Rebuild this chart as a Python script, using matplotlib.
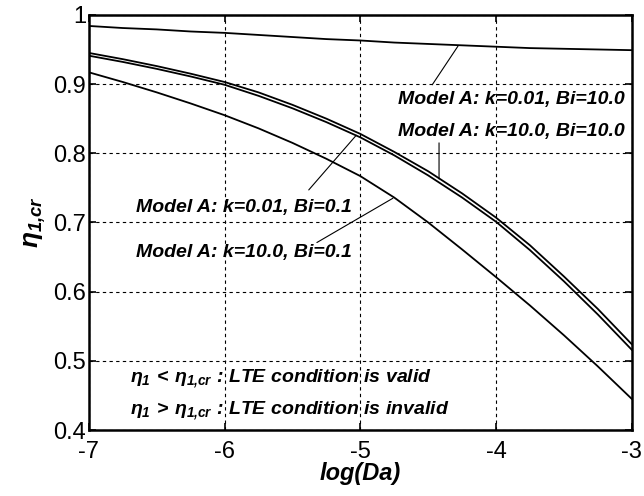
import numpy as np
import matplotlib
matplotlib.use("Agg")
import matplotlib.pyplot as plt

plt.rcParams['font.family'] = ['Liberation Sans', 'DejaVu Sans']
plt.rcParams['mathtext.fontset'] = 'custom'
plt.rcParams['mathtext.it'] = 'Liberation Sans:italic:bold'
plt.rcParams['mathtext.rm'] = 'Liberation Sans:italic:bold'
plt.rcParams['mathtext.bf'] = 'Liberation Sans:italic:bold'
plt.rcParams['axes.unicode_minus'] = False

# data
log_da = [-7, -6.75, -6.5, -6.25, -6, -5.75, -5.5, -5.25, -5,
          -4.75, -4.5, -4.25, -4, -3.75, -3.5, -3.25, -3]
k001_bi10 = [0.984, 0.981, 0.979, 0.976, 0.974, 0.971, 0.968, 0.965, 0.963,
             0.960, 0.958, 0.956, 0.954, 0.952, 0.951, 0.950, 0.949]
k10_bi10 = [0.945, 0.936, 0.926, 0.915, 0.903, 0.888, 0.870, 0.850, 0.828,
            0.802, 0.774, 0.742, 0.707, 0.667, 0.622, 0.575, 0.524]
k001_bi01 = [0.941, 0.932, 0.922, 0.911, 0.899, 0.883, 0.865, 0.845, 0.823,
             0.797, 0.768, 0.736, 0.701, 0.660, 0.615, 0.567, 0.516]
k10_bi01 = [0.917, 0.903, 0.888, 0.872, 0.855, 0.836, 0.815, 0.792, 0.767,
            0.736, 0.700, 0.661, 0.621, 0.580, 0.537, 0.492, 0.445]

fig = plt.figure(figsize=(6.44, 4.96), dpi=100)
ax = fig.add_axes([0.138, 0.133, 0.843, 0.837])

for s in [k001_bi10, k10_bi10, k001_bi01, k10_bi01]:
    ax.plot(log_da, s, color='black', lw=1.3)

ax.set_xlim(-7, -3)
ax.set_ylim(0.4, 1.0)
ax.set_xticks([-7, -6, -5, -4, -3])
ax.set_yticks([0.4, 0.5, 0.6, 0.7, 0.8, 0.9, 1.0])
ax.set_yticklabels(['0.4', '0.5', '0.6', '0.7', '0.8', '0.9', '1'])
ax.grid(True, color='black', linestyle=(0, (3, 3)), lw=0.8)
ax.tick_params(direction='in', top=True, right=True, labelsize=17, length=5, width=1.2, pad=2)
ax.tick_params(axis='x', pad=8)
for sp in ax.spines.values():
    sp.set_linewidth(1.8)

ax.set_xlabel('log(Da)', fontsize=17, fontweight='bold', fontstyle='italic', labelpad=-1)
ax.set_ylabel(r'$\eta_{1{,}cr}$', fontsize=19, labelpad=4)

tkw = dict(fontsize=14, fontweight='bold', fontstyle='italic', color='black')
lkw = dict(arrowprops=dict(arrowstyle='-', color='black', lw=0.8, shrinkA=0, shrinkB=0))

ax.text(-3.05, 0.877, 'Model A: k=0.01, Bi=10.0', ha='right', va='center', **tkw)
ax.annotate('', xy=(-4.28, 0.955), xytext=(-4.47, 0.899), **lkw)
ax.text(-3.05, 0.831, 'Model A: k=10.0, Bi=10.0', ha='right', va='center', **tkw)
ax.annotate('', xy=(-4.42, 0.763), xytext=(-4.42, 0.815), **lkw)

ax.text(-5.06, 0.722, 'Model A: k=0.01, Bi=0.1', ha='right', va='center', **tkw)
ax.annotate('', xy=(-5.03, 0.826), xytext=(-5.38, 0.747), **lkw)
ax.text(-5.06, 0.656, 'Model A: k=10.0, Bi=0.1', ha='right', va='center', **tkw)
ax.annotate('', xy=(-4.76, 0.735), xytext=(-5.32, 0.671), **lkw)

ax.text(-6.7, 0.474, r'$\eta_1\,<\,\eta_{1{,}cr}$ : LTE condition is valid', ha='left', va='center', **tkw)
ax.text(-6.7, 0.428, r'$\eta_1\,>\,\eta_{1{,}cr}$ : LTE condition is invalid', ha='left', va='center', **tkw)

fig.savefig('out.png', dpi=100)
